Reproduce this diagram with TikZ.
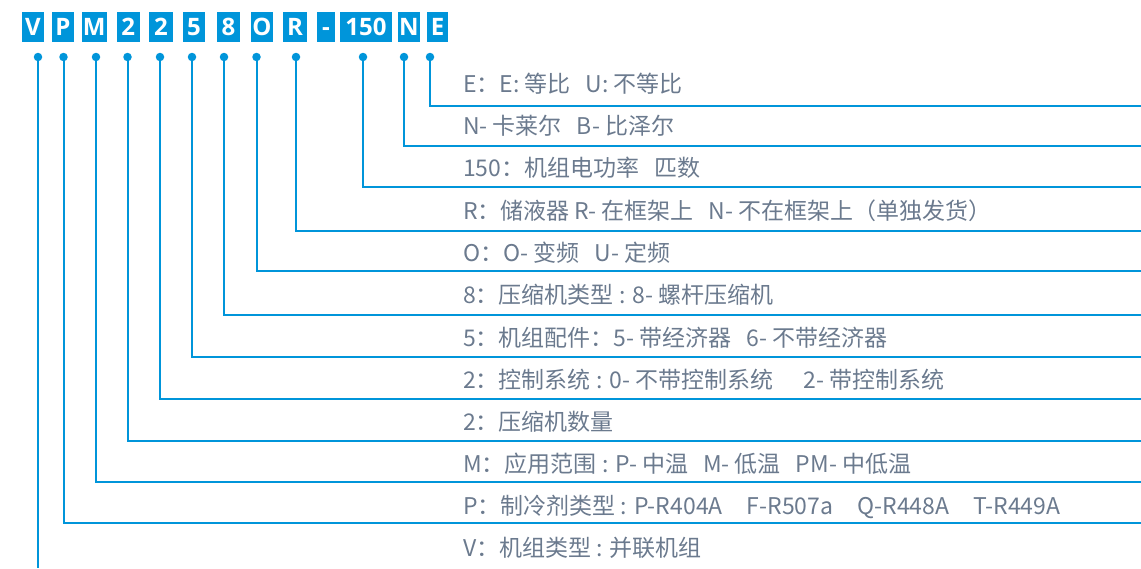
\documentclass[tikz,border=0pt]{standalone}
\usepackage{fontspec}
\setmainfont{Noto Sans CJK SC}
\newfontfamily\codefont{Open Sans}
\definecolor{codeblue}{HTML}{0095DA}
\definecolor{legendgray}{HTML}{6B7A8E}
\newcommand{\gap}{\hspace{15pt}}

\begin{document}
\begin{tikzpicture}[x=1pt, y=-1pt,
	codebox/.style={fill=codeblue, text=white, inner sep=0pt, minimum height=30pt,
		text height=17pt, text depth=0pt,
		font=\codefont\bfseries\fontsize{24}{24}\selectfont},
	pinhead/.style={circle, fill=codeblue, inner sep=0pt, minimum size=8.5pt},
	leader/.style={codeblue, line width=2pt},
	legend/.style={anchor=base west, inner sep=0pt, text=legendgray,
		font=\fontsize{23}{23}\selectfont}]
	% Fix the page size
	\useasboundingbox (0,0) rectangle (1141,568);
	% Draw the code boxes
	\foreach \name/\txt/\cx/\w in {V/V/32.9/22.3, P/P/62.9/22.3, M/M/94.2/25, twoA/2/128.3/23.3,
		twoB/2/161/24, five/5/194/22, eight/8/228.5/23, O/O/261.8/22.3, R/R/295/24,
		dash/{-}/326/18, hp/150/366/52, N/N/409/22, E/E/437.5/21} {
		\node[codebox, minimum width=\w pt] (box\name) at (\cx,27) {\txt};
	}
	% Draw the pins and the leader lines
	\foreach \name/\px/\ex/\ey in {E/430/1141/106, N/404/1141/146, hp/363/1141/187,
		R/296/1141/231, O/256.5/1141/271, eight/224/1141/315, five/192/1141/357,
		twoB/160/1141/399, twoA/127.5/1141/441, M/96/1141/482, P/63.5/1141/523,
		V/38/38/568} {
		\node[pinhead] (pin\name) at (\px,57) {};
		\coordinate (end\name) at (\ex,\ey);
		\draw[leader] (pin\name.center) |- (end\name);
	}
	% Add the legend texts
	\foreach \name/\ty/\txt in {
		E/92/{E：E: 等比\gap U: 不等比},
		N/134/{N- 卡莱尔\gap B- 比泽尔},
		hp/176/{150：机组电功率\gap 匹数},
		R/219/{R：储液器 R- 在框架上\gap N- 不在框架上（单独发货）},
		O/261/{O：O- 变频\gap U- 定频},
		eight/303/{8：压缩机类型 : 8- 螺杆压缩机},
		five/346/{5：机组配件：5- 带经济器\gap 6- 不带经济器},
		twoB/388/{2：控制系统 : 0- 不带控制系统\gap\hspace{10pt} 2- 带控制系统},
		twoA/430/{2：压缩机数量},
		M/472/{M：应用范围 : P- 中温\gap M- 低温\gap PM- 中低温},
		P/514/{P：制冷剂类型 : P-R404A\gap\hspace{4pt} F-R507a\gap\hspace{4pt} Q-R448A\gap\hspace{4pt} T-R449A},
		V/556/{V：机组类型 : 并联机组}} {
		\node[legend] (text\name) at (463,\ty) {\txt};
	}
\end{tikzpicture}
\end{document}
